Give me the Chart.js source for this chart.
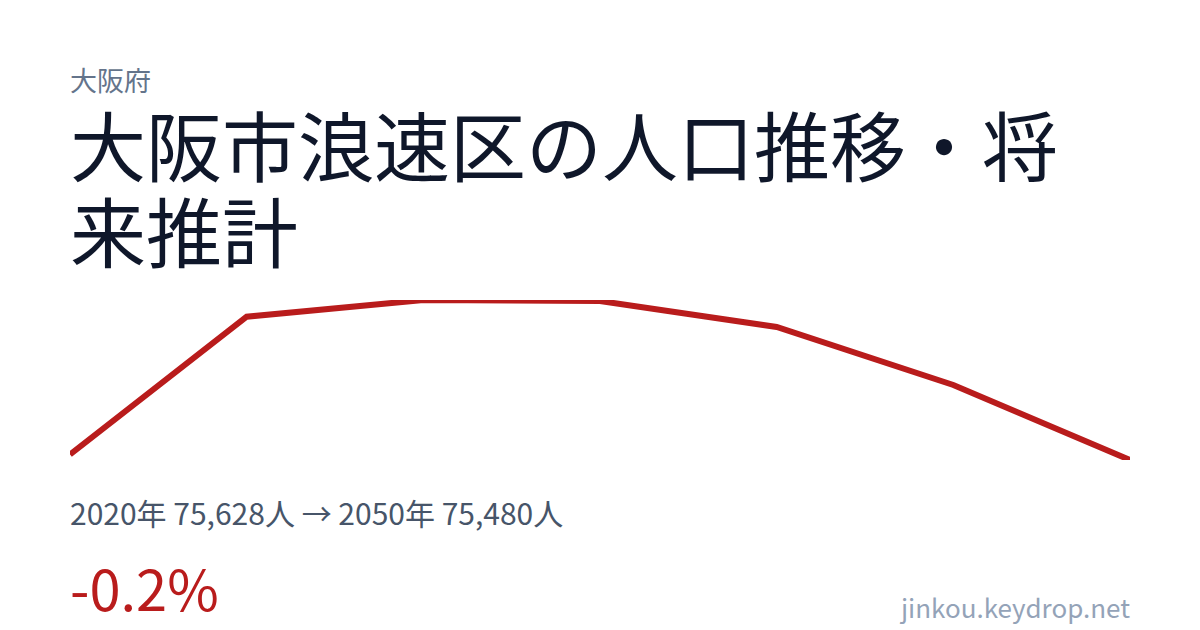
<!DOCTYPE html>
<html lang="ja">
<head>
    <meta charset="UTF-8">
    <title>大阪市浪速区の人口推移・将来推計</title>
    <script src="https://cdn.jsdelivr.net/npm/chart.js"></script>
    <style>
        html, body {
            margin: 0;
            padding: 0;
            background: #ffffff;
        }
        body {
            width: 1200px;
            height: 630px;
            position: relative;
            overflow: hidden;
            font-family: "Noto Sans CJK JP", "Noto Sans", sans-serif;
        }
        .pref {
            position: absolute;
            left: 70px;
            top: 60px;
            font-size: 27px;
            line-height: 40px;
            color: #64748b;
        }
        .title {
            position: absolute;
            left: 70px;
            top: 100px;
            width: 1060px;
            font-size: 76px;
            line-height: 86px;
            color: #0f172a;
            margin: 0;
            font-weight: 400;
        }
        .chart-box {
            position: absolute;
            left: 70px;
            top: 290px;
            width: 1060px;
            height: 180px;
        }
        .stats {
            position: absolute;
            left: 70px;
            top: 492px;
            font-size: 30px;
            line-height: 40px;
            color: #475569;
        }
        .change {
            position: absolute;
            left: 70px;
            top: 552px;
            font-size: 56px;
            line-height: 70px;
            color: #b91c1c;
        }
        .site {
            position: absolute;
            right: 70px;
            top: 589px;
            font-size: 26px;
            line-height: 36px;
            color: #94a3b8;
        }
    </style>
</head>
<body>
    <div class="pref">大阪府</div>
    <h1 class="title">大阪市浪速区の人口推移・将来推計</h1>
    <div class="chart-box">
        <canvas id="popChart" width="1060" height="180"></canvas>
    </div>
    <div class="stats">2020年 75,628人 → 2050年 75,480人</div>
    <div class="change">-0.2%</div>
    <div class="site">jinkou.keydrop.net</div>

    <script>
        // 年次と人口（推計値は図から読み取り）
        const years = ['2020', '2025', '2030', '2035', '2040', '2045', '2050'];
        const population = [75628, 79335, 79784, 79757, 79058, 77498, 75480];

        new Chart(document.getElementById('popChart'), {
            type: 'line',
            data: {
                labels: years,
                datasets: [{
                    data: population,
                    borderColor: '#b91c1c',
                    borderWidth: 6,
                    pointRadius: 0,
                    tension: 0,
                    fill: false
                }]
            },
            options: {
                responsive: false,
                animation: false,
                layout: {
                    padding: { top: 10, bottom: 10, left: 0, right: 0 }
                },
                plugins: {
                    legend: { display: false },
                    tooltip: { enabled: false }
                },
                scales: {
                    x: { display: false, offset: false },
                    y: {
                        display: false,
                        min: Math.min(...population),
                        max: Math.max(...population)
                    }
                }
            }
        });
    </script>
</body>
</html>
